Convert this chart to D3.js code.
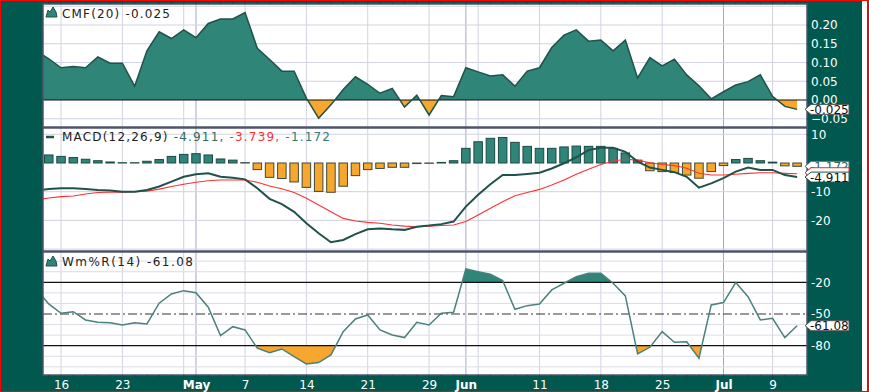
<!DOCTYPE html>
<html lang="en">
<head>
<meta charset="UTF-8">
<title>CMF / MACD / Wm%R</title>
<script src="https://d3js.org/d3.v7.min.js"></script>
<style>
  body { margin: 0; background: #fff; }
  svg text { font-family: "DejaVu Sans", Verdana, sans-serif; }
</style>
</head>
<body>
<script>
// trading days shown (Apr 12 .. Jul 11, 2012)
const dates = [
  '2012-04-12','2012-04-13','2012-04-16','2012-04-17','2012-04-18','2012-04-19','2012-04-20',
  '2012-04-23','2012-04-24','2012-04-25','2012-04-26','2012-04-27','2012-04-30',
  '2012-05-01','2012-05-02','2012-05-03','2012-05-04','2012-05-07','2012-05-08','2012-05-09',
  '2012-05-10','2012-05-11','2012-05-14','2012-05-15','2012-05-16','2012-05-17','2012-05-18',
  '2012-05-21','2012-05-22','2012-05-23','2012-05-24','2012-05-25','2012-05-29','2012-05-30',
  '2012-05-31','2012-06-01','2012-06-04','2012-06-05','2012-06-06','2012-06-07','2012-06-08',
  '2012-06-11','2012-06-12','2012-06-13','2012-06-14','2012-06-15','2012-06-18','2012-06-19',
  '2012-06-20','2012-06-21','2012-06-22','2012-06-25','2012-06-26','2012-06-27','2012-06-28',
  '2012-06-29','2012-07-02','2012-07-03','2012-07-05','2012-07-06','2012-07-09','2012-07-10',
  '2012-07-11'
];

const cmf = [
  0.130, 0.110, 0.086, 0.089, 0.086, 0.115, 0.098, 0.098, 0.037, 0.131, 0.182, 0.164, 0.187,
  0.166, 0.204, 0.216, 0.216, 0.233, 0.138, 0.108, 0.077, 0.077, 0.005, -0.049, -0.013, 0.028,
  0.062, 0.042, 0.018, 0.031, -0.019, 0.013, -0.040, 0.012, 0.009, 0.086, 0.075, 0.064, 0.067,
  0.037, 0.077, 0.086, 0.140, 0.173, 0.187, 0.157, 0.160, 0.131, 0.160, 0.059, 0.113, 0.091,
  0.109, 0.067, 0.038, 0.003, 0.022, 0.040, 0.049, 0.067, 0.010, -0.017, -0.025
];

const macd = [
  -9.5, -9.1, -8.8, -8.8, -9.1, -9.4, -9.6, -10.0, -10.0, -9.4, -8.2, -6.5, -4.8,
  -3.9, -3.6, -4.8, -5.1, -5.7, -8.8, -12.5, -14.3, -17.0, -21.0, -24.5, -27.6, -26.8,
  -24.8, -23.1, -22.8, -23.1, -23.3, -22.2, -21.8, -21.3, -20.4, -15.2, -11.1, -7.4, -4.2,
  -4.2, -3.8, -3.4, -1.9, -0.1, 2.0, 4.5, 5.3, 5.3, 3.9, 0.5, -1.6, -2.4,
  -3.2, -4.8, -8.6, -7.1, -5.3, -3.0, -1.6, -2.4, -2.4, -4.2, -4.911
];

const signal = [
  -12.8, -12.2, -11.7, -11.5, -10.8, -10.3, -10.2, -10.2, -10.0, -9.8, -9.1, -8.2, -7.4,
  -6.7, -6.2, -5.9, -5.9, -5.9, -6.7, -8.0, -9.0, -10.3, -12.3, -14.6, -17.0, -19.3,
  -20.2, -20.7, -21.0, -21.6, -22.0, -22.2, -22.0, -21.8, -21.6, -20.4, -18.1, -15.8, -13.5,
  -11.4, -10.3, -9.2, -7.7, -5.9, -3.9, -2.2, -0.5, 0.7, 1.3, 1.0, 0.1, -0.5,
  -0.9, -1.8, -3.6, -4.2, -4.2, -3.9, -3.6, -3.4, -3.4, -3.6, -3.739
];

const hist = [
  3.2, 2.8, 2.3, 1.9, 1.3, 0.8, 0.35, 0.1, 0.1, 0.6, 1.2, 2.3, 3.0,
  3.25, 2.8, 1.4, 1.0, 0.1, -2.3, -5.0, -5.4, -6.6, -8.5, -9.9, -10.2, -8.1,
  -4.4, -2.3, -1.9, -1.5, -1.5, -0.2, -0.1, 0.2, 0.8, 5.1, 7.4, 8.6, 8.9,
  7.2, 5.8, 5.1, 5.1, 5.6, 5.9, 5.8, 5.8, 5.1, 3.5, 1.0, -2.7, -3.0,
  -3.3, -4.2, -5.3, -3.0, -0.9, 1.2, 1.6, 0.8, 0.3, -1.0, -1.172
];

const willr = [
  -27.0, -40.5, -49.3, -47.8, -55.6, -57.8, -58.2, -60.4, -58.2, -59.4, -39.8, -31.0, -27.9,
  -29.8, -43.6, -70.5, -62.0, -65.1, -82.4, -86.6, -83.1, -90.3, -97.3, -96.0, -88.7, -66.7,
  -54.7, -50.9, -65.1, -69.8, -72.3, -57.8, -60.4, -49.3, -48.3, -7.4, -9.9, -12.4, -18.4,
  -45.5, -42.1, -40.5, -27.2, -20.9, -14.7, -11.5, -11.5, -20.9, -32.9, -87.8, -81.5, -66.7,
  -76.8, -76.2, -91.9, -41.4, -39.2, -20.3, -33.6, -55.6, -54.0, -72.3, -61.08
];

const xLabelDates = ['2012-04-16','2012-04-23','2012-05-01','2012-05-07','2012-05-14','2012-05-21',
  '2012-05-29','2012-06-01','2012-06-11','2012-06-18','2012-06-25','2012-07-02','2012-07-09'];
const xLabelTexts = ['16','23','May','7','14','21','29','Jun','11','18','25','Jul','9'];
const monthDates = ['2012-05-01','2012-06-01','2012-07-02'];
const weekGridDates = ['2012-04-16','2012-04-23','2012-04-30','2012-05-07','2012-05-14','2012-05-21',
  '2012-05-29','2012-06-04','2012-06-11','2012-06-18','2012-06-25','2012-07-09'];

const cmfTicks = [0.20, 0.15, 0.10, 0.05, 0.00, -0.05];
const macdTicks = [10, -10, -20];
const macdGrid = [10, -10, -20];
const willrTicks = [-20, -50, -80];
const willrGrid = [0, -10, -30, -40, -60, -70, -90, -100];

const width = 869, height = 392;
const L = 43, R = 807;
const teal = '#00584f', fillTeal = '#2f8577', lineTeal = '#1f524b', orange = '#f7a62e';

const svg = d3.select('body').append('svg').attr('width', width).attr('height', height);

// frame
svg.append('rect').attr('x', 0).attr('y', 0).attr('width', width).attr('height', height).attr('fill', '#ff0000');
svg.append('rect').attr('x', 1).attr('y', 1).attr('width', 866).attr('height', 390).attr('fill', '#ffffff');
svg.append('rect').attr('x', 1).attr('y', 1).attr('width', 861).attr('height', 390).attr('fill', teal);

const x = d3.scalePoint().domain(dates).range([36.5, 797.1]);

const panels = [
  { id: 'cmf', top: 4, bottom: 127 },
  { id: 'macd', top: 128, bottom: 251 },
  { id: 'willr', top: 252, bottom: 375 }
];

const yC = d3.scaleLinear().domain([0, 0.2]).range([100, 25]);
const yM = d3.scaleLinear().domain([0, 10]).range([163, 134.3]);
const yW = d3.scaleLinear().domain([-20, -80]).range([282.3, 345.7]);

const defs = svg.append('defs');
function clip(id, y0, y1) {
  defs.append('clipPath').attr('id', id).append('rect')
    .attr('x', L).attr('y', y0).attr('width', R - L).attr('height', y1 - y0);
  return `url(#${id})`;
}

panels.forEach(p => {
  svg.append('rect').attr('x', L).attr('y', p.top).attr('width', R - L).attr('height', p.bottom - p.top)
    .attr('fill', '#fff');
  const g = svg.append('g').attr('clip-path', clip('c-' + p.id, p.top, p.bottom));
  // vertical grid
  g.selectAll('line.vg').data(weekGridDates).join('line')
    .attr('x1', d => x(d)).attr('x2', d => x(d)).attr('y1', p.top).attr('y2', p.bottom)
    .attr('stroke', '#d2d2e2').attr('stroke-width', 1);
  g.selectAll('line.mg').data(monthDates).join('line')
    .attr('x1', d => x(d)).attr('x2', d => x(d)).attr('y1', p.top).attr('y2', p.bottom)
    .attr('stroke', '#a4a8c8').attr('stroke-width', 1);
  p.g = g;
});

function hgrid(g, vals, y, color) {
  g.selectAll(null).data(vals).join('line')
    .attr('x1', L).attr('x2', R).attr('y1', d => y(d)).attr('y2', d => y(d))
    .attr('stroke', color || '#d2d2e2').attr('stroke-width', 1);
}

// ---- CMF ----
const gC = panels[0].g;
hgrid(gC, cmfTicks.filter(d => d !== 0).concat([-0.10, 0.25]), yC);
const cmfArea = d3.area().x((d, i) => x(dates[i])).y0(yC(0)).y1(d => yC(d));
gC.append('path').datum(cmf).attr('d', cmfArea).attr('fill', fillTeal)
  .attr('clip-path', clip('cmf-pos', panels[0].top, yC(0)));
gC.append('path').datum(cmf).attr('d', cmfArea).attr('fill', orange)
  .attr('clip-path', clip('cmf-neg', yC(0), panels[0].bottom));
gC.append('line').attr('x1', L).attr('x2', R).attr('y1', yC(0)).attr('y2', yC(0))
  .attr('stroke', '#111').attr('stroke-width', 1.2);
gC.append('path').datum(cmf)
  .attr('d', d3.line().x((d, i) => x(dates[i])).y(d => yC(d)))
  .attr('fill', 'none').attr('stroke', lineTeal).attr('stroke-width', 1.5);

// ---- MACD ----
const gM = panels[1].g;
hgrid(gM, macdGrid.concat([-30]), yM);
const bw = 8.5;
gM.selectAll('rect.bar').data(hist).join('rect')
  .attr('x', (d, i) => x(dates[i]) - bw / 2)
  .attr('y', d => Math.min(yM(d), yM(0)))
  .attr('width', bw)
  .attr('height', d => Math.abs(yM(d) - yM(0)))
  .attr('fill', d => d >= 0 ? fillTeal : orange)
  .attr('stroke', d => d >= 0 ? '#1d4a44' : '#3f4a38')
  .attr('stroke-width', 1);
gM.append('path').datum(signal)
  .attr('d', d3.line().x((d, i) => x(dates[i])).y(d => yM(d)))
  .attr('fill', 'none').attr('stroke', '#ff3030').attr('stroke-width', 1.1);
gM.append('path').datum(macd)
  .attr('d', d3.line().x((d, i) => x(dates[i])).y(d => yM(d)))
  .attr('fill', 'none').attr('stroke', lineTeal).attr('stroke-width', 2);

// ---- Williams %R ----
const gW = panels[2].g;
hgrid(gW, willrGrid, yW, '#dcdce8');
const wLine = d3.line().x((d, i) => x(dates[i])).y(d => yW(d));
gW.append('path').datum(willr)
  .attr('d', d3.area().x((d, i) => x(dates[i])).y0(yW(-20)).y1(d => yW(d)))
  .attr('fill', fillTeal).attr('clip-path', clip('w-hi', panels[2].top, yW(-20)));
gW.append('path').datum(willr)
  .attr('d', d3.area().x((d, i) => x(dates[i])).y0(yW(-80)).y1(d => yW(d)))
  .attr('fill', orange).attr('clip-path', clip('w-lo', yW(-80), panels[2].bottom));
gW.selectAll(null).data([-20, -80]).join('line')
  .attr('x1', L).attr('x2', R).attr('y1', d => yW(d)).attr('y2', d => yW(d))
  .attr('stroke', '#111').attr('stroke-width', 1.2);
gW.append('line').attr('x1', L).attr('x2', R).attr('y1', yW(-50)).attr('y2', yW(-50))
  .attr('stroke', '#333').attr('stroke-width', 1).attr('stroke-dasharray', '9,3,2,3');
gW.append('path').datum(willr).attr('d', wLine)
  .attr('fill', 'none').attr('stroke', '#4a817e').attr('stroke-width', 1.5);

// panel borders
panels.forEach(p => {
  svg.append('rect').attr('x', L).attr('y', p.top).attr('width', R - L).attr('height', p.bottom - p.top)
    .attr('fill', 'none').attr('stroke', '#4d566c').attr('stroke-width', 1.5);
});

// trading-day ticks above and below
svg.append('g').selectAll('line').data(dates.filter(d => x(d) > L && x(d) < R)).join('line')
  .attr('x1', d => x(d)).attr('x2', d => x(d)).attr('y1', 375).attr('y2', 378)
  .attr('stroke', '#2b3a48').attr('stroke-width', 1);
svg.append('g').selectAll('line').data(dates.filter(d => x(d) > L && x(d) < R)).join('line')
  .attr('x1', d => x(d)).attr('x2', d => x(d)).attr('y1', 1).attr('y2', 4)
  .attr('stroke', '#2b3a48').attr('stroke-width', 1);

// right axes
function rightAxis(y, vals, fmt) {
  const a = svg.append('g').attr('transform', `translate(${R},0)`)
    .call(d3.axisRight(y).tickValues(vals).tickFormat(fmt).tickSize(3).tickPadding(1));
  a.select('.domain').remove();
  a.selectAll('.tick line').attr('stroke', '#2b3a48');
  a.selectAll('.tick text').attr('fill', '#fff').style('font-size', '12px');
}
rightAxis(yC, cmfTicks, d3.format('.2f'));
rightAxis(yM, macdTicks, d => d);
rightAxis(yW, willrTicks, d => d);

// bottom axis
const labelMap = new Map(xLabelDates.map((d, i) => [d, xLabelTexts[i]]));
const xa = svg.append('g').attr('transform', 'translate(0,375)')
  .call(d3.axisBottom(x).tickValues(xLabelDates).tickFormat(d => labelMap.get(d)).tickSize(0).tickPadding(5));
xa.select('.domain').remove();
xa.selectAll('.tick text').attr('fill', '#fff').style('font-size', '12px')
  .style('font-weight', d => monthDates.includes(d) ? 'bold' : 'normal');

// value tags at the right (the signal tag sits hidden behind the others)
function tag(yv, txt, stroke, color) {
  const h = 10, x0 = 811, x1 = 849;
  const g = svg.append('g');
  g.append('path')
    .attr('d', `M${x0 - 6},${yv} L${x0},${yv - h / 2} L${x1},${yv - h / 2} L${x1},${yv + h / 2} L${x0},${yv + h / 2} Z`)
    .attr('fill', '#fff').attr('stroke', stroke).attr('stroke-width', 1);
  if (txt) {
    g.append('text').attr('x', x0 - 1).attr('y', yv).attr('dy', '0.38em')
      .style('font-size', '12px').attr('fill', color || '#111').text(txt);
  }
}
tag(yC(cmf[cmf.length - 1]), cmf[cmf.length - 1].toFixed(3), '#555');
tag(yM(hist[hist.length - 1]), hist[hist.length - 1].toFixed(3), '#4a7a72', '#2d5e57');
tag(yM(signal[signal.length - 1]) - 1, null, '#ff2020');
tag(yM(macd[macd.length - 1]), macd[macd.length - 1].toFixed(3), '#1f524b');
tag(yW(willr[willr.length - 1]), willr[willr.length - 1].toFixed(2), '#555');

// legends
function mountain(x0, y0) {
  svg.append('path')
    .attr('d', `M${x0},${y0 + 10} L${x0 + 2},${y0 + 3} L${x0 + 4},${y0 + 5} L${x0 + 7},${y0} L${x0 + 10},${y0 + 5} L${x0 + 11},${y0 + 10} Z`)
    .attr('fill', fillTeal).attr('stroke', lineTeal).attr('stroke-width', 1);
}
const legendStyle = (t, len) => t.style('font-size', '12px')
  .attr('textLength', len).attr('lengthAdjust', 'spacing');

mountain(46, 7);
svg.append('text').attr('x', 62).attr('y', 18).call(legendStyle, 108).attr('fill', '#222')
  .text('CMF(20) ' + cmf[cmf.length - 1].toFixed(3));

svg.append('line').attr('x1', 46).attr('x2', 54).attr('y1', 137).attr('y2', 137)
  .attr('stroke', lineTeal).attr('stroke-width', 2.5);
const mt = svg.append('text').attr('x', 62).attr('y', 141).call(legendStyle, 268);
mt.append('tspan').attr('fill', '#222').text('MACD(12,26,9) ');
mt.append('tspan').attr('fill', '#2d6b62').text(macd[macd.length - 1].toFixed(3) + ', ');
mt.append('tspan').attr('fill', '#ff3030').text(signal[signal.length - 1].toFixed(3) + ', ');
mt.append('tspan').attr('fill', '#2e7d70').text(hist[hist.length - 1].toFixed(3));

mountain(46, 256);
svg.append('text').attr('x', 62).attr('y', 266).call(legendStyle, 131).attr('fill', '#222')
  .text('Wm%R(14) ' + willr[willr.length - 1].toFixed(2));
</script>
</body>
</html>
